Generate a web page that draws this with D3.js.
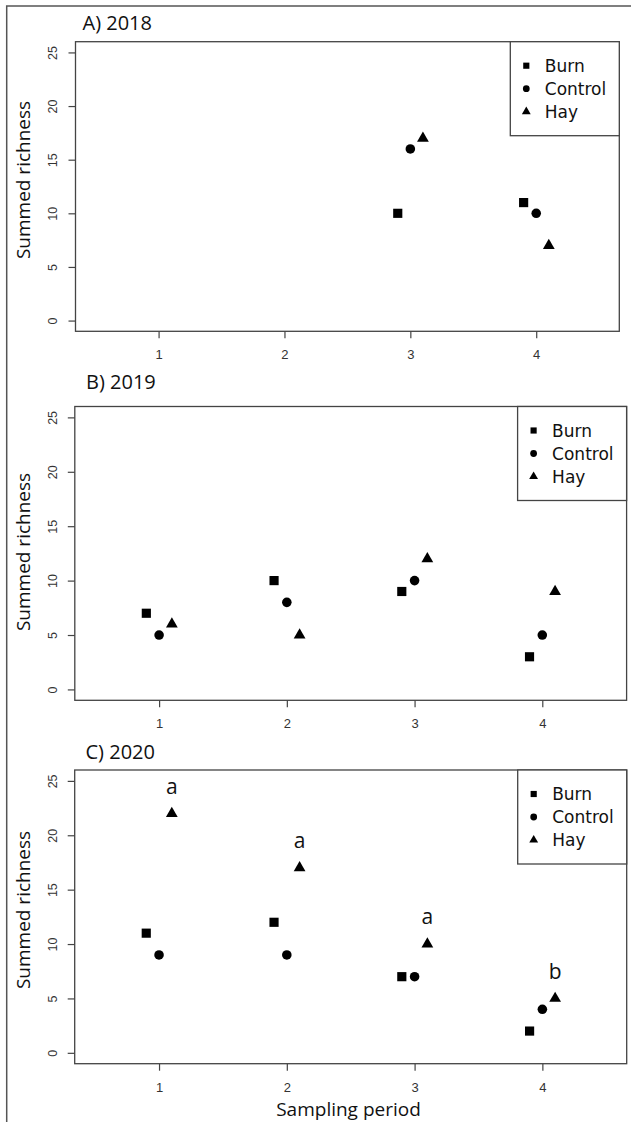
<!DOCTYPE html>
<html>
<head>
<meta charset="utf-8">
<script src="https://cdn.jsdelivr.net/npm/d3@7"></script>
<style>
  html, body { margin: 0; padding: 0; background: #fff; }
  svg { display: block; }
</style>
</head>
<body>
<script>
// ---------------- DATA ----------------
const periods = [1, 2, 3, 4];
const treatments = ["Burn", "Control", "Hay"];
const panelTitles = ["A) 2018", "B) 2019", "C) 2020"];
const yTicks = [0, 5, 10, 15, 20, 25];
const xTicks = [1, 2, 3, 4];
const treatmentOffsets = [-0.1, 0, 0.1];

const burn2018 = [null, null, 10, 11];
const control2018 = [null, null, 16, 10];
const hay2018 = [null, null, 17, 7];

const burn2019 = [7, 10, 9, 3];
const control2019 = [5, 8, 10, 5];
const hay2019 = [6, 5, 12, 9];

const burn2020 = [11, 12, 7, 2];
const control2020 = [9, 9, 7, 4];
const hay2020 = [22, 17, 10, 5];
const letters2020 = ["a", "a", "a", "b"];

const yAxisTitle = "Summed richness";
const xAxisTitle = "Sampling period";

// ---------------- LAYOUT ----------------
const W = 631, H = 1122;
const panels = [
  { series: [burn2018, control2018, hay2018], letters: null,
    left: 75.5, right: 619.3, top: 41.7, bottom: 331.3, titleY: 29.5, titleX: 82.5, yTitleC: 180 },
  { series: [burn2019, control2019, hay2019], letters: null,
    left: 74.8, right: 626.6, top: 406.5, bottom: 700.3, titleY: 388.5, titleX: 86, yTitleC: 552 },
  { series: [burn2020, control2020, hay2020], letters: letters2020,
    left: 74.7, right: 626.7, top: 770, bottom: 1063.7, titleY: 758.5, titleX: 85.5, yTitleC: 910 }
];

const svg = d3.select("body").append("svg")
  .attr("width", W).attr("height", H);

// outer frame (left + top only)
svg.append("path")
  .attr("d", `M6.7,${H} L6.7,6 L${W},6`)
  .attr("fill", "none").attr("stroke", "#555").attr("stroke-width", 1.5);

const symbols = [d3.symbolSquare, d3.symbolCircle, d3.symbolTriangle];
const plotSizes = [84, 72, 60];
const legendSizes = [38, 36, 34];

panels.forEach((p, pi) => {
  const g = svg.append("g");
  const x = d3.scaleLinear().domain([0.34, 4.66]).range([p.left, p.right]);
  const y = d3.scaleLinear().domain([-1, 26]).range([p.bottom, p.top]);

  // y axis
  const yAxis = d3.axisLeft(y).tickValues(yTicks).tickSize(7).tickPadding(0).tickFormat(d3.format("d"));
  const ya = g.append("g").attr("transform", `translate(${p.left},0)`).call(yAxis);
  ya.select(".domain").remove();
  ya.selectAll(".tick line").attr("stroke", "#444").attr("stroke-width", 1.2);
  ya.selectAll(".tick text")
    .attr("font-family", "Liberation Sans, Arial, sans-serif")
    .attr("font-size", 12.5).attr("fill", "#333")
    .attr("text-anchor", "middle").attr("dy", null)
    .attr("x", null)
    .attr("transform", d => `translate(${57 - p.left},0) rotate(-90)`);

  // x axis
  const xAxis = d3.axisBottom(x).tickValues(xTicks).tickSize(7).tickPadding(0).tickFormat(d3.format("d"));
  const xa = g.append("g").attr("transform", `translate(0,${p.bottom})`).call(xAxis);
  xa.select(".domain").remove();
  xa.selectAll(".tick line").attr("stroke", "#444").attr("stroke-width", 1.2);
  xa.selectAll(".tick text")
    .attr("font-family", "Liberation Sans, Arial, sans-serif")
    .attr("font-size", 13).attr("fill", "#333")
    .attr("dy", null).attr("y", 28);

  // box
  g.append("rect")
    .attr("x", p.left).attr("y", p.top)
    .attr("width", p.right - p.left).attr("height", p.bottom - p.top)
    .attr("fill", "none").attr("stroke", "#444").attr("stroke-width", 1.3);

  // panel title
  g.append("text")
    .attr("x", p.titleX).attr("y", p.titleY)
    .attr("font-family", "Open Sans, sans-serif").attr("font-size", 20)
    .attr("fill", "#111")
    .text(panelTitles[pi]);

  // y axis title
  g.append("text")
    .attr("transform", `translate(30,${p.yTitleC}) rotate(-90)`)
    .attr("text-anchor", "middle")
    .attr("font-family", "Open Sans, sans-serif").attr("font-size", 19)
    .attr("fill", "#111")
    .text(yAxisTitle);

  // points
  p.series.forEach((vals, si) => {
    const pts = periods.map((per, i) => ({ per, v: vals[i] })).filter(d => d.v != null);
    g.selectAll(null).data(pts).enter().append("path")
      .attr("d", d3.symbol().type(symbols[si]).size(plotSizes[si]))
      .attr("transform", d => `translate(${x(d.per + treatmentOffsets[si])},${y(d.v)})`)
      .attr("fill", "#000");
  });

  // letters
  if (p.letters) {
    const hay = p.series[2];
    g.selectAll(null).data(periods).enter().append("text")
      .attr("x", (per) => x(per + treatmentOffsets[2]))
      .attr("y", (per, i) => y(hay[i] + 1.8))
      .attr("text-anchor", "middle")
      .attr("font-family", "Open Sans, sans-serif").attr("font-size", 21)
      .attr("fill", "#111")
      .text((per, i) => p.letters[i]);
  }

  // legend
  const lw = 109, lh = 94;
  const lx = p.right - lw, ly = p.top;
  g.append("rect")
    .attr("x", lx).attr("y", ly).attr("width", lw).attr("height", lh)
    .attr("fill", "#fff").attr("stroke", "#444").attr("stroke-width", 1.3);
  treatments.forEach((t, ti) => {
    const ry = ly + 24 + ti * 23;
    g.append("path")
      .attr("d", d3.symbol().type(symbols[ti]).size(legendSizes[ti]))
      .attr("transform", `translate(${lx + 16},${ry})`)
      .attr("fill", "#000");
    g.append("text")
      .attr("x", lx + 34.5).attr("y", ry + 6)
      .attr("font-family", "DejaVu Sans, sans-serif").attr("font-size", 17)
      .attr("fill", "#111")
      .text(t);
  });
});

// x axis title
svg.append("text")
  .attr("x", 348.5).attr("y", 1116)
  .attr("text-anchor", "middle")
  .attr("font-family", "Open Sans, sans-serif").attr("font-size", 19)
  .attr("fill", "#111")
  .text(xAxisTitle);
</script>
</body>
</html>
